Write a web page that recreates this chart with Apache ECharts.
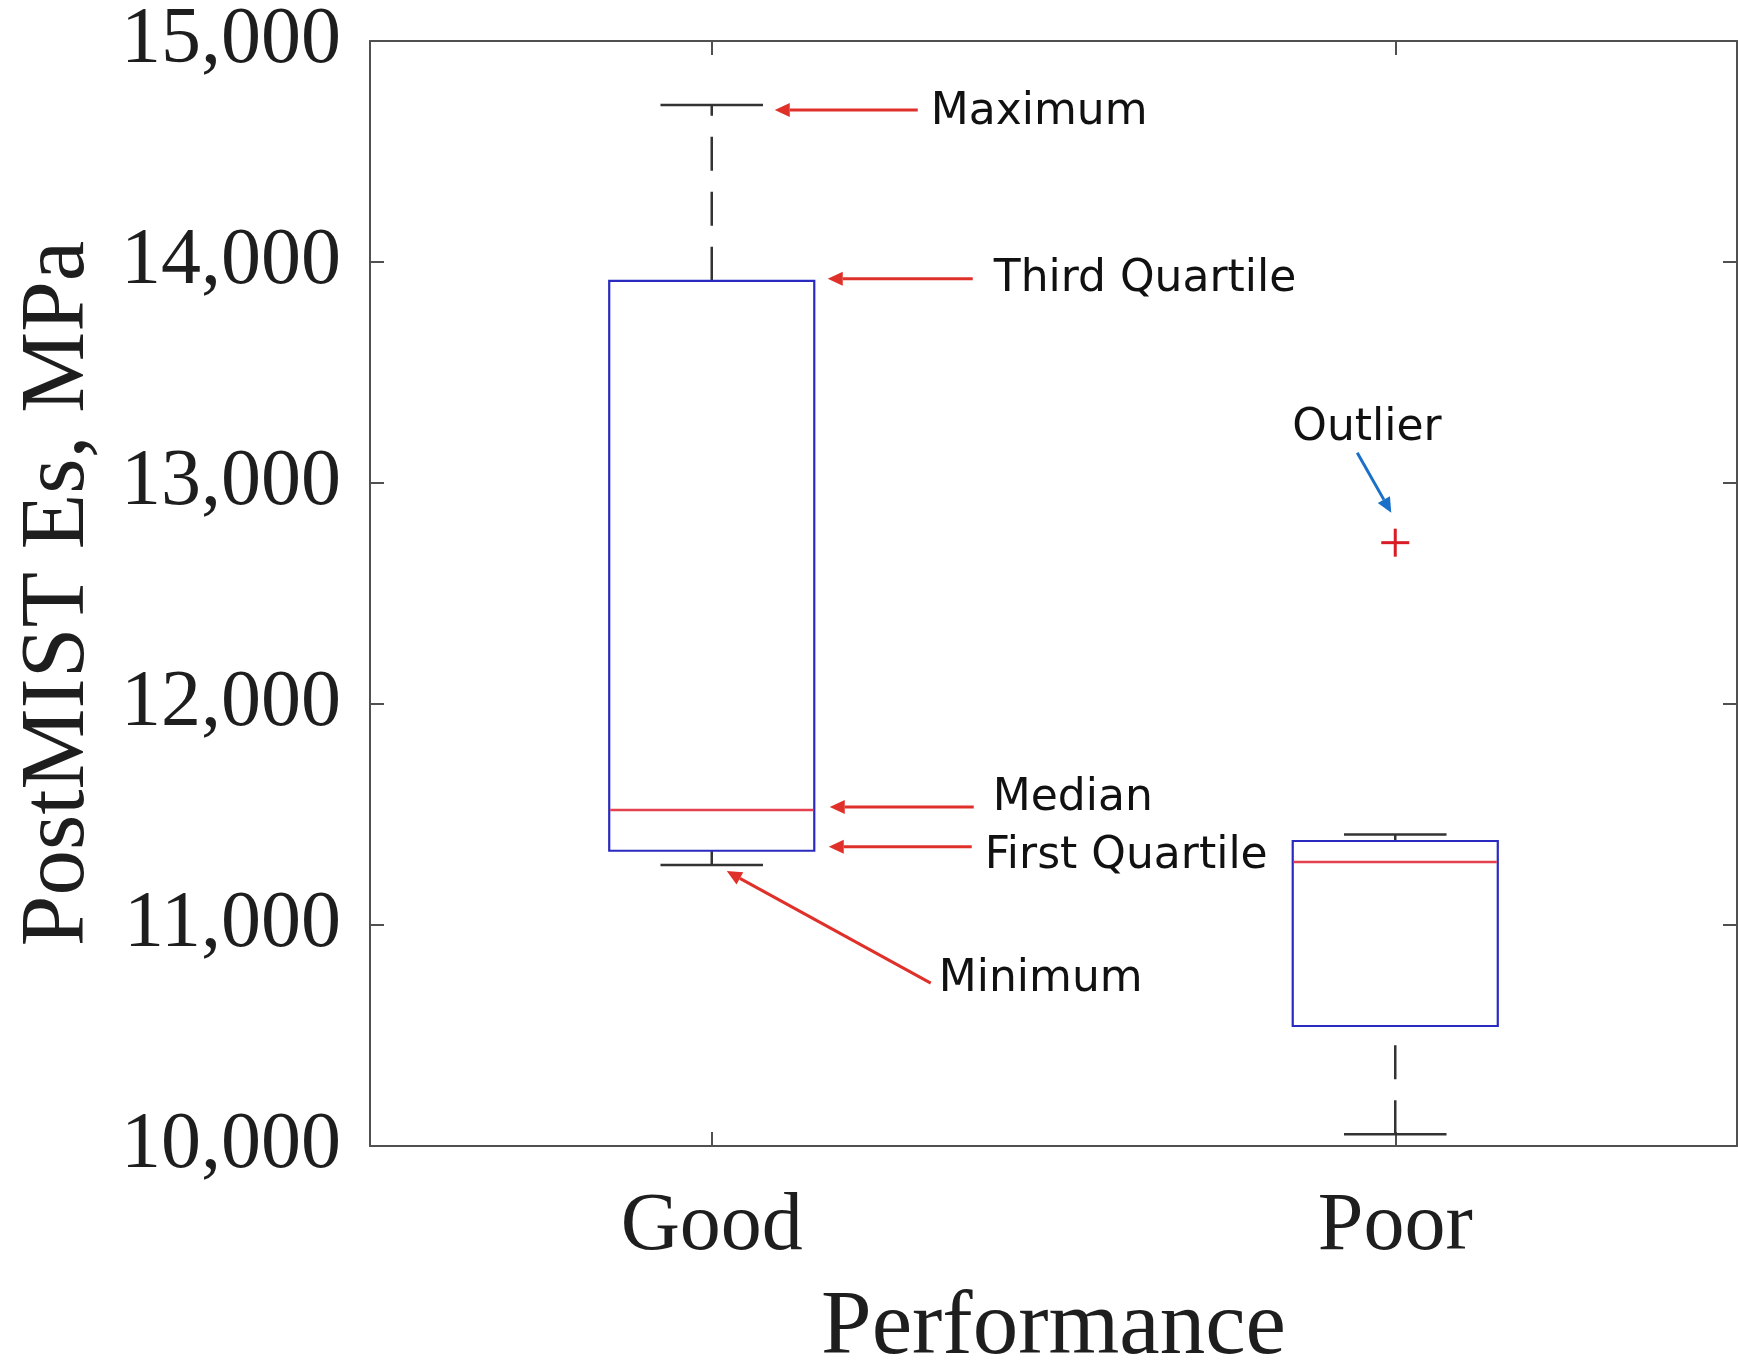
<!DOCTYPE html>
<html>
<head>
<meta charset="utf-8">
<script src="https://cdn.jsdelivr.net/npm/echarts@6/dist/echarts.min.js"></script>
<style>
html,body{margin:0;padding:0;background:#fff;overflow:hidden;}
#chart{width:1738px;height:1364px;}
</style>
</head>
<body>
<div id="chart"></div>
<script>
// ---- data ----
const categories = ['Good', 'Poor'];
const minVals    = [11271, 10053];
const q1Vals     = [11336, 10543];
const medianVals = [11520, 11285];
const q3Vals     = [13915, 11380];
const maxVals    = [14710, 11410];
const outlierCats = ['Poor'];
const outlierVals = [12730];
const yMin = 10000, yMax = 15000, yStep = 1000;
const yTitle = 'PostMIST Es, MPa';
const xTitle = 'Performance';

// annotations: label, anchor category + value, offsets (px) of tip, tail, text left/baseline
const annotations = [
  {text: 'Maximum',        cat: 'Good', val: maxVals[0],    tip: [63, 5],   tail: [206, 5],   txt: [219, 21],  color: '#e0302a'},
  {text: 'Third Quartile', cat: 'Good', val: q3Vals[0],     tip: [116, -2], tail: [261, -2],  txt: [282, 13],  color: '#e0302a'},
  {text: 'Median',         cat: 'Good', val: medianVals[0], tip: [118, -3], tail: [262, -3],  txt: [281, 2],   color: '#e0302a'},
  {text: 'First Quartile', cat: 'Good', val: q1Vals[0],     tip: [117, -4], tail: [260, -4],  txt: [273, 20],  color: '#e0302a'},
  {text: 'Minimum',        cat: 'Good', val: minVals[0],    tip: [15, 6],   tail: [219, 118], txt: [227, 128], color: '#e0302a'},
  {text: 'Outlier',        cat: 'Poor', val: outlierVals[0],tip: [-4, -30], tail: [-38, -90], txt: [-103, -100], color: '#1a6fc8'}
];

const fmt = v => String(v).replace(/\B(?=(\d{3})+(?!\d))/g, ',');

const chart = echarts.init(document.getElementById('chart'), null, {renderer: 'canvas'});

const axisLineStyle = {color: '#505050', width: 2};

const boxData = categories.map((c, i) => [i, minVals[i], q1Vals[i], medianVals[i], q3Vals[i], maxVals[i]]);
const outData = outlierCats.map((c, i) => [categories.indexOf(c), outlierVals[i]]);

function renderBox(params, api) {
  const x = api.value(0);
  const pMin = api.coord([x, api.value(1)]);
  const pQ1 = api.coord([x, api.value(2)]);
  const pMed = api.coord([x, api.value(3)]);
  const pQ3 = api.coord([x, api.value(4)]);
  const pMax = api.coord([x, api.value(5)]);
  const band = api.size([1, 0])[0];
  const bw = band * 0.3, cw = band * 0.15;
  const cx = pMed[0];
  const wStyle = {stroke: '#333', lineWidth: 2.5};
  return {
    type: 'group',
    children: [
      {type: 'line', shape: {x1: cx, y1: pQ3[1], x2: cx, y2: pMax[1]}, style: Object.assign({lineDash: [34, 21]}, wStyle)},
      {type: 'line', shape: {x1: cx, y1: pMin[1], x2: cx, y2: pQ1[1]}, style: Object.assign({lineDash: [34, 21]}, wStyle)},
      {type: 'line', shape: {x1: cx - cw / 2, y1: pMax[1], x2: cx + cw / 2, y2: pMax[1]}, style: wStyle},
      {type: 'line', shape: {x1: cx - cw / 2, y1: pMin[1], x2: cx + cw / 2, y2: pMin[1]}, style: wStyle},
      {type: 'rect', shape: {x: cx - bw / 2, y: pQ3[1], width: bw, height: pQ1[1] - pQ3[1]},
        style: {fill: 'rgba(255,255,255,0)', stroke: '#2a2ac0', lineWidth: 2.2}},
      {type: 'line', shape: {x1: cx - bw / 2 + 1, y1: pMed[1], x2: cx + bw / 2 - 1, y2: pMed[1]},
        style: {stroke: '#e4404e', lineWidth: 2.5}}
    ]
  };
}

function renderOutlier(params, api) {
  const p = api.coord([api.value(0), api.value(1)]);
  const h = 14;
  const st = {stroke: '#d81b25', lineWidth: 3};
  return {
    type: 'group',
    children: [
      {type: 'line', shape: {x1: p[0] - h, y1: p[1], x2: p[0] + h, y2: p[1]}, style: st},
      {type: 'line', shape: {x1: p[0], y1: p[1] - h, x2: p[0], y2: p[1] + h}, style: st}
    ]
  };
}

const option = {
  backgroundColor: '#fff',
  animation: false,
  grid: {left: 370, right: 1, top: 41, bottom: 218, containLabel: false, outerBoundsMode: 'none'},
  xAxis: [
    {
      type: 'category', data: categories, position: 'bottom', boundaryGap: true,
      axisLine: {show: true, onZero: false, lineStyle: axisLineStyle},
      axisTick: {show: true, inside: true, alignWithLabel: true, length: 14, lineStyle: axisLineStyle},
      axisLabel: {show: true, margin: 40, fontFamily: 'Liberation Serif', fontSize: 82, lineHeight: 82, color: '#1e1e1e'},
      splitLine: {show: false},
      name: xTitle, nameLocation: 'middle', nameGap: 138,
      nameTextStyle: {fontFamily: 'Liberation Serif', fontSize: 91, lineHeight: 91, color: '#1e1e1e'}
    },
    {
      type: 'category', data: categories, position: 'top', boundaryGap: true,
      axisLine: {show: true, onZero: false, lineStyle: axisLineStyle},
      axisTick: {show: true, inside: true, alignWithLabel: true, length: 14, lineStyle: axisLineStyle},
      axisLabel: {show: false}, splitLine: {show: false}
    }
  ],
  yAxis: [
    {
      type: 'value', min: yMin, max: yMax, interval: yStep, position: 'left',
      axisLine: {show: true, onZero: false, lineStyle: axisLineStyle},
      axisTick: {show: true, inside: true, length: 14, lineStyle: axisLineStyle},
      axisLabel: {show: true, margin: 29, formatter: fmt, fontFamily: 'Liberation Serif', fontSize: 80, color: '#1e1e1e'},
      splitLine: {show: false},
      name: yTitle, nameLocation: 'middle', nameGap: 265, nameRotate: 90,
      nameTextStyle: {fontFamily: 'Liberation Serif', fontSize: 91, lineHeight: 91, color: '#1e1e1e'}
    },
    {
      type: 'value', min: yMin, max: yMax, interval: yStep, position: 'right',
      axisLine: {show: true, onZero: false, lineStyle: axisLineStyle},
      axisTick: {show: true, inside: true, length: 14, lineStyle: axisLineStyle},
      axisLabel: {show: false}, splitLine: {show: false}
    }
  ],
  series: [
    {
      type: 'custom', name: 'box', xAxisIndex: 0, yAxisIndex: 0,
      renderItem: renderBox, data: boxData,
      encode: {x: 0, y: [1, 2, 3, 4, 5]}, clip: false, z: 5
    },
    {
      type: 'custom', name: 'outlier', xAxisIndex: 0, yAxisIndex: 0,
      renderItem: renderOutlier, data: outData,
      encode: {x: 0, y: 1}, z: 6
    }
  ]
};

chart.setOption(option);

// annotation arrows anchored to data points
function arrow(tip, tail, color) {
  const dx = tip[0] - tail[0], dy = tip[1] - tail[1];
  const len = Math.sqrt(dx * dx + dy * dy);
  const ux = dx / len, uy = dy / len;
  const hl = 15, hw = 7;
  const bx = tip[0] - ux * hl, by = tip[1] - uy * hl;
  const nx = -uy, ny = ux;
  return [
    {type: 'line', shape: {x1: tail[0], y1: tail[1], x2: bx, y2: by}, style: {stroke: color, lineWidth: 3}, z: 20},
    {type: 'polygon', shape: {points: [[tip[0], tip[1]], [bx + nx * hw, by + ny * hw], [bx - nx * hw, by - ny * hw]]},
      style: {fill: color}, z: 20}
  ];
}

const graphics = [];
annotations.forEach(a => {
  const p = chart.convertToPixel({xAxisIndex: 0, yAxisIndex: 0}, [a.cat, a.val]);
  const tip = [p[0] + a.tip[0], p[1] + a.tip[1]];
  const tail = [p[0] + a.tail[0], p[1] + a.tail[1]];
  arrow(tip, tail, a.color).forEach(g => graphics.push(g));
  graphics.push({
    type: 'text', z: 20,
    x: p[0] + a.txt[0], y: p[1] + a.txt[1] - 14,
    style: {text: a.text, fontFamily: 'DejaVu Sans', fontSize: 44, fill: '#111', align: 'left', verticalAlign: 'middle'}
  });
});
chart.setOption({graphic: graphics});
</script>
</body>
</html>
